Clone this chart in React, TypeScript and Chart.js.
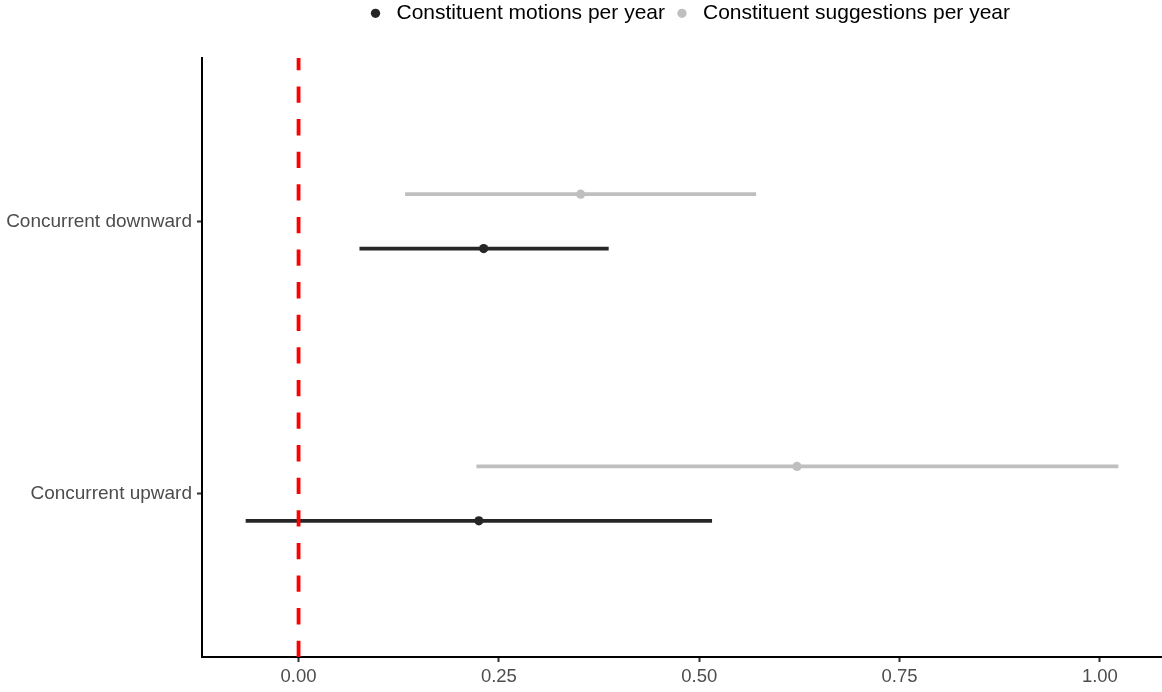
import React, { useEffect, useRef } from 'react';
import { Chart, registerables } from 'chart.js';

Chart.register(...registerables);

// ---- Data ----
const categories = ['Concurrent upward', 'Concurrent downward'];
const categoryPositions = [1, 2];
const seriesNames = ['Constituent motions per year', 'Constituent suggestions per year'];
const motionsEstimate = [0.225, 0.231];
const motionsLower = [-0.066, 0.076];
const motionsUpper = [0.516, 0.387];
const suggestionsEstimate = [0.622, 0.352];
const suggestionsLower = [0.222, 0.133];
const suggestionsUpper = [1.023, 0.571];
const xTicks = [0, 0.25, 0.5, 0.75, 1.0];
const referenceValue = 0;

// ---- Styling ----
const MOTION_COLOR = '#262626';
const SUGGESTION_COLOR = '#BFBFBF';
const DODGE = 0.1;
const FONT = "'Liberation Sans', Arial, Helvetica, sans-serif";
const LEGEND_PAD = 6.5;

const legendSpacer = {
  id: 'legendSpacer',
  beforeInit(chart: any) {
    const legend = chart.legend;
    if (!legend) return;
    const orig = legend.fit;
    legend.fit = function () {
      orig.call(this);
      this.height = 61.7;
    };
  },
  afterLayout(chart: any) {
    const legend = chart.legend;
    if (!legend) return;
    legend.left += 5.5;
    legend.right += 5.5;
  },
};

function intervalDatasets(lower: number[], upper: number[], offset: number, color: string) {
  return categoryPositions.map((pos, i) => ({
    label: '',
    inLegend: false,
    showLine: true,
    data: [
      { x: lower[i], y: pos + offset },
      { x: upper[i], y: pos + offset },
    ],
    borderColor: color,
    backgroundColor: color,
    borderWidth: 3.7,
    pointRadius: 0,
    pointHoverRadius: 0,
    order: 2,
  }));
}

function pointDataset(name: string, est: number[], offset: number, color: string) {
  return {
    label: name,
    inLegend: true,
    showLine: false,
    data: categoryPositions.map((pos, i) => ({ x: est[i], y: pos + offset })),
    borderColor: color,
    backgroundColor: color,
    borderWidth: 0,
    pointRadius: 4.6,
    pointBorderWidth: 0,
    pointBackgroundColor: color,
    pointStyle: 'circle',
    order: 1,
  };
}

export default function App() {
  const canvasRef = useRef<HTMLCanvasElement | null>(null);

  useEffect(() => {
    if (!canvasRef.current) return;
    const datasets: any[] = [
      pointDataset(seriesNames[0], motionsEstimate, -DODGE, MOTION_COLOR),
      pointDataset(seriesNames[1], suggestionsEstimate, DODGE, SUGGESTION_COLOR),
      ...intervalDatasets(motionsLower, motionsUpper, -DODGE, MOTION_COLOR),
      ...intervalDatasets(suggestionsLower, suggestionsUpper, DODGE, SUGGESTION_COLOR),
      {
        label: '',
        inLegend: false,
        showLine: true,
        data: [
          { x: referenceValue, y: 0.4 },
          { x: referenceValue, y: 2.6 },
        ],
        borderColor: '#FF0000',
        borderWidth: 3.8,
        borderDash: [16.3, 16.3],
        pointRadius: 0,
        pointHoverRadius: 0,
        order: 0,
      },
    ];

    const gridOpts = {
      display: true,
      drawOnChartArea: false,
      drawTicks: true,
      tickLength: 5,
      tickColor: '#333333',
      tickWidth: 2,
    };

    const chart = new Chart(canvasRef.current, {
      type: 'scatter',
      data: { datasets },
      plugins: [legendSpacer],
      options: {
        animation: false,
        responsive: false,
        devicePixelRatio: 1,
        events: [],
        layout: { autoPadding: false, padding: { top: -3.7, left: 0, right: 0, bottom: 0 } },
        font: { family: FONT },
        plugins: {
          tooltip: { enabled: false },
          legend: {
            display: true,
            position: 'top',
            fullSize: false,
            labels: {
              usePointStyle: true,
              pointStyle: 'circle',
              boxHeight: 6.6,
              boxWidth: 21,
              padding: LEGEND_PAD,
              color: '#000000',
              font: { family: FONT, size: 21 },
              filter: (item: any, data: any) => !!data.datasets[item.datasetIndex].inLegend,
            },
          },
        },
        scales: {
          x: {
            type: 'linear',
            min: -0.1205,
            max: 1.0775,
            afterBuildTicks: (s: any) => {
              s.ticks = xTicks.map((v) => ({ value: v }));
            },
            afterFit: (s: any) => {
              s.height = 35;
            },
            ticks: {
              color: '#4D4D4D',
              padding: 4,
              font: { family: FONT, size: 18.5 },
              callback: (v: any) => Number(v).toFixed(2),
            },
            grid: gridOpts,
            border: { display: true, color: '#000000', width: 2 },
          },
          y: {
            type: 'linear',
            min: 0.4,
            max: 2.6,
            afterBuildTicks: (s: any) => {
              s.ticks = categoryPositions.map((v) => ({ value: v }));
            },
            afterFit: (s: any) => {
              s.width = 202;
            },
            ticks: {
              color: '#4D4D4D',
              padding: 5,
              font: { family: FONT, size: 19 },
              callback: (_v: any, i: number) => categories[i],
            },
            grid: gridOpts,
            border: { display: true, color: '#000000', width: 2 },
          },
        },
      } as any,
    });

    return () => {
      chart.destroy();
    };
  }, []);

  return (
    <div style={{ position: 'fixed', left: 0, top: 0, width: 1162, height: 692, background: '#FFFFFF' }}>
      <canvas ref={canvasRef} width={1162} height={692} style={{ display: 'block' }} />
    </div>
  );
}
